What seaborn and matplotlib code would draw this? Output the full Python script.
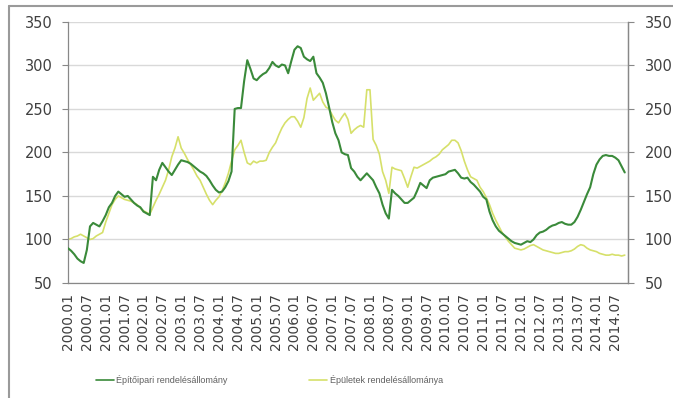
import numpy as np
import pandas as pd
import matplotlib
matplotlib.use("Agg")
import matplotlib.pyplot as plt
from matplotlib.lines import Line2D
import seaborn as sns

# Monthly index values, 2000.01 – 2014.10
epitoipari = [
    90, 87, 83, 78, 75, 73, 88, 115, 119, 117, 115, 121,            # 2000
    128, 137, 142, 150, 155, 152, 149, 150, 146, 142, 139, 137,     # 2001
    132, 130, 128, 172, 168, 180, 188, 183, 178, 174, 180, 186,     # 2002
    191, 190, 189, 187, 184, 181, 178, 176, 173, 168, 162, 157,     # 2003
    154, 155, 160, 167, 178, 250, 251, 251, 282, 306, 296, 285,     # 2004
    283, 287, 290, 292, 297, 304, 300, 298, 301, 300, 291, 305,     # 2005
    318, 322, 320, 310, 307, 305, 310, 291, 286, 280, 268, 252,     # 2006
    235, 222, 214, 200, 198, 197, 182, 178, 172, 168, 172, 176,     # 2007
    172, 168, 160, 153, 140, 130, 124, 157, 153, 150, 146, 142,     # 2008
    142, 145, 148, 156, 165, 162, 159, 168, 171, 172, 173, 174,     # 2009
    175, 178, 179, 180, 176, 171, 170, 171, 166, 163, 159, 155,     # 2010
    149, 146, 132, 122, 115, 110, 107, 104, 101, 98, 96, 95,        # 2011
    94, 96, 98, 97, 100, 105, 108, 109, 111, 114, 116, 117,         # 2012
    119, 120, 118, 117, 117, 120, 126, 134, 143, 152, 160, 175,     # 2013
    186, 192, 196, 197, 196, 196, 194, 191, 184, 177,               # 2014
]
epuletek = [
    100, 101, 103, 104, 106, 104, 102, 100, 101, 104, 106, 108,     # 2000
    120, 130, 140, 146, 150, 148, 146, 145, 144, 142, 140, 136,     # 2001
    133, 131, 129, 137, 145, 152, 160, 168, 180, 195, 205, 218,     # 2002
    205, 199, 192, 186, 180, 173, 168, 160, 152, 145, 140, 145,     # 2003
    149, 156, 165, 176, 190, 203, 208, 214, 200, 188, 186, 190,     # 2004
    188, 190, 190, 191, 200, 206, 211, 220, 228, 234, 238, 241,     # 2005
    241, 236, 229, 240, 262, 274, 260, 264, 268, 258, 252, 250,     # 2006
    243, 237, 234, 240, 245, 238, 222, 226, 229, 231, 229, 272,     # 2007
    272, 215, 208, 198, 178, 168, 153, 183, 181, 180, 179, 170,     # 2008
    160, 172, 183, 182, 184, 186, 188, 190, 193, 195, 198, 203,     # 2009
    206, 209, 214, 214, 211, 202, 190, 180, 172, 170, 168, 160,     # 2010
    155, 148, 140, 130, 122, 115, 108, 103, 98, 94, 90, 89,         # 2011
    88, 89, 91, 93, 94, 92, 90, 88, 87, 86, 85, 84,                 # 2012
    84, 85, 86, 86, 87, 89, 92, 94, 93, 90, 88, 87,                 # 2013
    86, 84, 83, 82, 82, 83, 82, 82, 81, 82,                         # 2014
]
series_names = ["Építőipari rendelésállomány", "Épületek rendelésállománya"]
colors = ["#3a8a3a", "#d6e06a"]

months = [f"{2000 + i // 12}.{i % 12 + 1:02d}" for i in range(len(epitoipari))]
tick_labels = months[::6]
y_ticks = [50, 100, 150, 200, 250, 300, 350]

df = pd.DataFrame({
    "t": list(range(len(epitoipari))) * 2,
    "value": epitoipari + epuletek,
    "series": [series_names[0]] * len(epitoipari) + [series_names[1]] * len(epuletek),
})

sns.set_style("white")
plt.rcParams["font.family"] = ["DejaVu Sans"]

fig = plt.figure(figsize=(6.73, 3.98), dpi=100)
ax = fig.add_axes([0.101, 0.289, 0.832, 0.656])

# light series first so the dark one sits on top
sns.lineplot(data=df, x="t", y="value", hue="series", hue_order=series_names[::-1],
             palette=dict(zip(series_names, colors)), ax=ax, legend=False,
             estimator=None, sort=False)
for line in ax.lines:
    if line.get_color() == colors[0]:
        line.set_linewidth(1.5)
        line.set_zorder(3)
    else:
        line.set_linewidth(1.2)

n = len(epitoipari)
ax.set_xlim(0, n)
ax.set_ylim(50, 350)
ax.set_yticks(y_ticks)
ax.set_xticks(range(0, n, 6))
ax.set_xticklabels(tick_labels, rotation=90, fontsize=10, color="#404040")
ax.tick_params(axis="y", labelsize=10.5, colors="#404040", direction="out", length=4,
               width=0.8, color="#888888", pad=7)
ax.tick_params(axis="x", direction="out", length=4, width=0.8, color="#888888", pad=3)
ax.set_xlabel("")
ax.set_ylabel("")
ax.yaxis.grid(True, color="#d9d9d9", linewidth=1)
ax.set_axisbelow(True)
ax.spines["top"].set_visible(False)
for side in ["left", "right", "bottom"]:
    ax.spines[side].set_color("#888888")
    ax.spines[side].set_linewidth(0.9)

ax2 = ax.twinx()
ax2.set_ylim(50, 350)
ax2.set_yticks(y_ticks)
ax2.tick_params(axis="y", labelsize=10.5, colors="#404040", direction="out", length=4,
                width=0.8, color="#888888", pad=8)
for side in ["top", "left", "bottom"]:
    ax2.spines[side].set_visible(False)
ax2.spines["right"].set_color("#888888")
ax2.spines["right"].set_linewidth(0.9)

handles = [Line2D([], [], color=c, linewidth=1.2) for c in colors]
fig.legend(handles, series_names, loc="center", bbox_to_anchor=(0.40, 0.045), ncol=2,
           frameon=False, handlelength=2.0, handletextpad=0.3,
           columnspacing=9, labelcolor="#606060", prop={"family": "Liberation Sans", "size": 6.5})

# outer chart frame
fig.add_artist(Line2D([9 / 673, 9 / 673], [0, 1 - 6 / 398], color="#9a9a9a", linewidth=1.5))
fig.add_artist(Line2D([9 / 673, 1], [1 - 6 / 398, 1 - 6 / 398], color="#9a9a9a", linewidth=1.5))

fig.savefig("out.png", dpi=100)
